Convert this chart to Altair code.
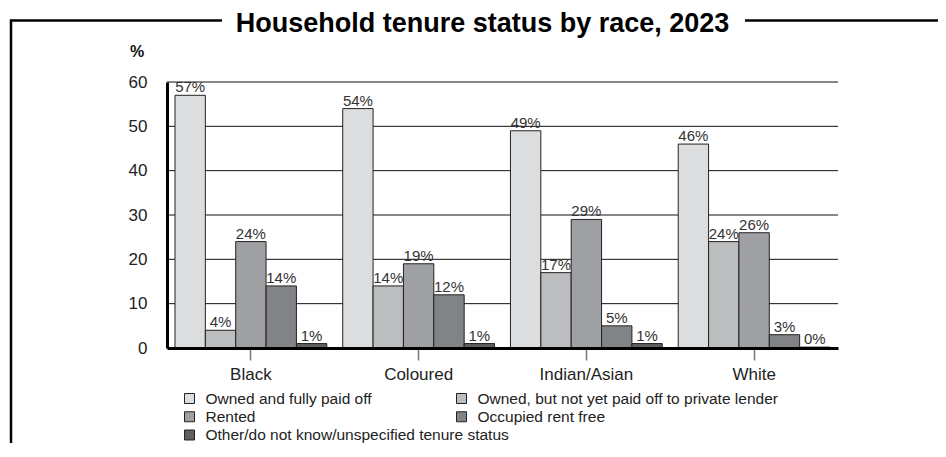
import altair as alt
import pandas as pd

races = ["Black", "Coloured", "Indian/Asian", "White"]
tenures = [
    "Owned and fully paid off",
    "Owned, but not yet paid off to private lender",
    "Rented",
    "Occupied rent free",
    "Other/do not know/unspecified tenure status",
]
black_vals = [57, 4, 24, 14, 1]
coloured_vals = [54, 14, 19, 12, 1]
indian_vals = [49, 17, 29, 5, 1]
white_vals = [46, 24, 26, 3, 0.2]
y_ticks = [0, 10, 20, 30, 40, 50, 60]
grays = ["#dcdddf", "#bcbdbf", "#9fa0a3", "#828386", "#5e5f62"]
title_text = "Household tenure status by race, 2023"

rows = []
for race, vals in zip(races, [black_vals, coloured_vals, indian_vals, white_vals]):
    for t, v in zip(tenures, vals):
        rows.append({"race": race, "tenure": t, "value": v, "label": f"{round(v)}%"})
df = pd.DataFrame(rows)

FONT = "Liberation Sans"
color_enc = alt.Color("tenure:N", sort=tenures,
                      scale=alt.Scale(domain=tenures, range=grays), legend=None)

x_scale = alt.Scale(paddingInner=0.095, paddingOuter=0.0476)
x_axis = alt.Axis(title=None, labelAngle=0, labelFontSize=17, labelColor="#222",
                  domainColor="black", domainWidth=3, tickColor="#777",
                  tickWidth=1.5, tickSize=12, labelPadding=6, grid=False, zindex=1)
xo_enc = alt.XOffset("tenure:N", sort=tenures, scale=alt.Scale(paddingInner=0, paddingOuter=0))
y_scale = alt.Scale(domain=[0, 60], nice=False)
y_axis = alt.Axis(title=None, values=y_ticks, grid=False, domainColor="black",
                  domainWidth=3, ticks=False, labelPadding=20, labelFontSize=17,
                  labelColor="#222", zindex=1)

grid_df = pd.DataFrame({"tick": y_ticks[1:]})
grid = alt.Chart(grid_df).mark_rule(color="#111", strokeWidth=1).encode(
    y=alt.Y("tick:Q", scale=y_scale, axis=y_axis)
)

bars = alt.Chart(df).mark_bar(stroke="#222", strokeWidth=1).encode(
    x=alt.X("race:N", sort=races, scale=x_scale, axis=x_axis),
    xOffset=xo_enc,
    y=alt.Y("value:Q", scale=y_scale, axis=y_axis),
    color=color_enc,
)

labels = alt.Chart(df).mark_text(baseline="alphabetic", dy=-3, fontSize=15, color="#333").encode(
    x=alt.X("race:N", sort=races, scale=x_scale, axis=x_axis),
    xOffset=xo_enc,
    y=alt.Y("value:Q", scale=y_scale, axis=y_axis),
    text="label:N",
)

plot = alt.layer(grid, bars, labels)

leg_df = pd.DataFrame({"tenure": tenures, "i": list(range(len(tenures)))})
leg = alt.Chart(leg_df).transform_calculate(col="datum.i % 2", row="floor(datum.i / 2)")
lx = alt.X("col:Q", scale=alt.Scale(domain=[0, 1], range=[22.5, 294.5]), axis=None)
ly = alt.Y("row:Q", scale=alt.Scale(domain=[0, 2], range=[316.5, 353]), axis=None)
leg_sym = leg.mark_square(size=100, opacity=1, stroke="#222", strokeWidth=1).encode(
    x=lx, y=ly, color=color_enc)
leg_txt = leg.mark_text(align="left", baseline="middle", dx=16, fontSize=15.5, color="#222").encode(
    x=lx, y=ly, text="tenure:N")

one = pd.DataFrame({"k": [0]})
title = alt.Chart(one).mark_text(text=title_text, fontSize=27, fontWeight="bold",
                                 align="center", baseline="alphabetic", color="black").encode(
    x=alt.value(315.5), y=alt.value(-50))
pct = alt.Chart(one).mark_text(text="%", fontSize=16, fontWeight="bold",
                               align="center", baseline="alphabetic", color="#111").encode(
    x=alt.value(-30), y=alt.value(-25))
frame_l = alt.Chart(one).mark_rule(color="black", strokeWidth=2.5).encode(
    x=alt.value(-157), x2=alt.value(55), y=alt.value(-61.5))
frame_r = alt.Chart(one).mark_rule(color="black", strokeWidth=2.5).encode(
    x=alt.value(578), x2=alt.value(775), y=alt.value(-61.5))
frame_v = alt.Chart(one).mark_rule(color="black", strokeWidth=2.5).encode(
    x=alt.value(-156), y=alt.value(-62.5), y2=alt.value(370))

chart = alt.layer(
    plot, leg_sym, leg_txt, title, pct, frame_l, frame_r, frame_v
).resolve_scale(x="independent", y="independent").properties(
    width=671, height=266,
    padding={"left": 159, "top": 74, "right": 100, "bottom": 95},
    autosize=alt.AutoSizeParams(type="none"),
).configure(font=FONT).configure_view(stroke=None)

chart.save("out.html", embed_options={"renderer": "svg", "actions": False})
